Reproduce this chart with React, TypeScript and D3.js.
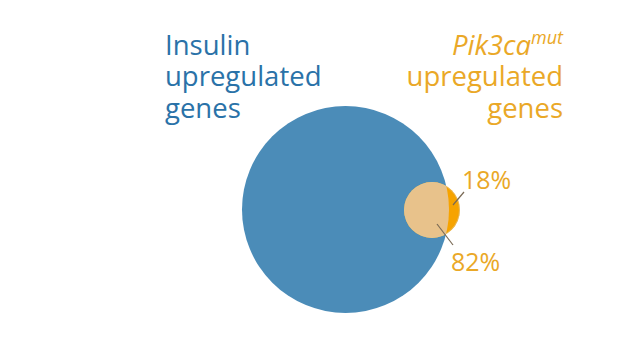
import React from "react";
import * as d3 from "d3";

const setNames = ["Insulin upregulated genes", "Pik3ca mut upregulated genes"];
const setSizes = [1, 0.073]; // relative areas
const overlapLabels = ["18%", "82%"];
const overlapValues = [18, 82];

const W = 638;
const H = 339;

export default function App() {
  const r = d3.scaleSqrt().domain([0, setSizes[0]]).range([0, 103.5]);
  const R1 = r(setSizes[0]);
  const R2 = r(setSizes[1]);
  const c1 = { x: 345.5, y: 209.5 };
  const c2 = { x: 432, y: 210 };
  const font = "'Open Sans', sans-serif";
  const blueText = "#2a72a8";
  const orangeText = "#eaa827";
  return (
    <div style={{ position: "absolute", left: 0, top: 0 }}>
      <svg width={W} height={H} style={{ display: "block" }}>
        <defs>
          <clipPath id="bigClip">
            <circle cx={c1.x} cy={c1.y} r={R1} />
          </clipPath>
        </defs>
        <rect width={W} height={H} fill="#fff" />
        <circle cx={c1.x} cy={c1.y} r={R1} fill="#4b8cb8" />
        <circle cx={c2.x} cy={c2.y} r={R2} fill="#f6a300" />
        <circle cx={c2.x} cy={c2.y} r={R2} fill="#e8c28b" clipPath="url(#bigClip)" />
        <circle cx={c2.x} cy={c2.y} r={R2 - 0.5} fill="none" stroke="#d9c9a8" strokeWidth={1} opacity={0.5} />
        {/* leader lines */}
        <line x1={453} y1={205} x2={464} y2={192} stroke="#7a6a55" strokeWidth={1.2} />
        <line x1={437} y1={224} x2={453} y2={245} stroke="#7a6a55" strokeWidth={1.2} />
        <text x={462} y={189} fontFamily={font} fontSize={25} fill={orangeText}>{overlapLabels[0]}</text>
        <text x={451} y={271} fontFamily={font} fontSize={25} fill={orangeText}>{overlapLabels[1]}</text>
        {/* left title */}
        <g fontFamily={font} fontSize={27.5} fill={blueText}>
          <text x={165} y={55}>Insulin</text>
          <text x={165} y={86}>upregulated</text>
          <text x={165} y={118}>genes</text>
        </g>
        <g fontFamily={font} fontSize={27.5} fill={orangeText} textAnchor="end">
          <text x={563} y={55}>
            <tspan fontStyle="italic">Pik3ca</tspan>
            <tspan fontStyle="italic" fontSize={18} dy={-11}>mut</tspan>
          </text>
          <text x={563} y={86}>upregulated</text>
          <text x={563} y={118}>genes</text>
        </g>
      </svg>
    </div>
  );
}
